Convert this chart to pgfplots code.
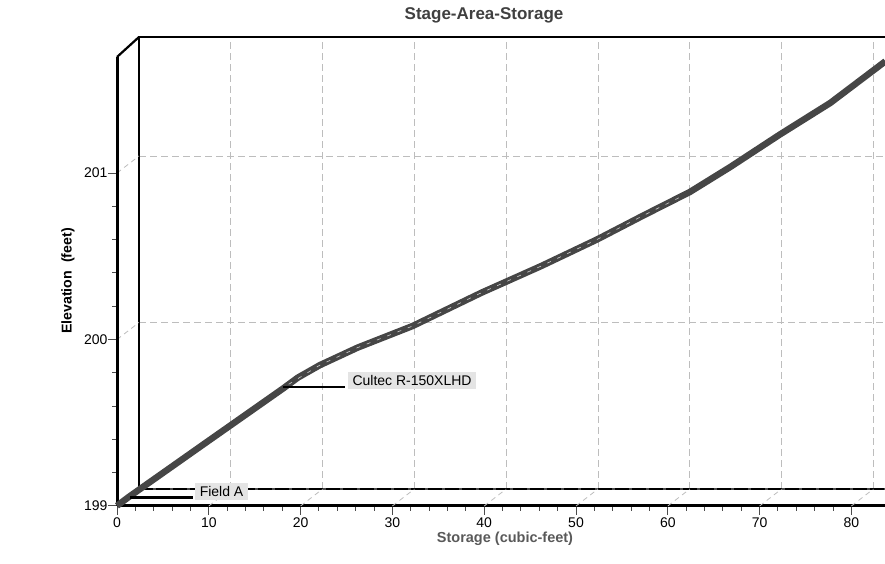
\documentclass[border=0pt]{standalone}
\usepackage{fontspec}
\setmainfont{Liberation Sans}
\usepackage{pgfplots}
\pgfplotsset{compat=1.18}
\definecolor{gridgray}{HTML}{BDBDBD}
\definecolor{curvegray}{HTML}{464646}
\definecolor{labelgray}{HTML}{595959}
\definecolor{titlegray}{HTML}{404040}
\definecolor{boxgray}{HTML}{E4E4E4}

\begin{document}
\begin{tikzpicture}[x=1pt,y=1pt]
\path[use as bounding box] (0,0) rectangle (885,564);

% ---------- back plane (grid) ----------
\begin{axis}[
  at={(139pt,75pt)}, anchor=south west, scale only axis,
  width=746pt, height=452pt,
  xmin=0, xmax=81.26, ymin=199, ymax=201.715,
  axis line style={draw=none},
  xtick={10,20,...,80}, ytick={200,201},
  xticklabels={}, yticklabels={},
  major tick length=0pt,
  grid=major,
  grid style={gridgray, dash pattern=on 7pt off 4pt, line width=0.9pt},
  clip=false,
]
\draw[black!70, line width=1.6pt] (axis cs:0,199) -- (axis cs:81.26,199);
\draw[black, line width=1.6pt, dash pattern=on 14pt off 3pt] (axis cs:0,199) -- (axis cs:81.26,199);
\draw[black, line width=2.2pt] (axis cs:0,199) -- (axis cs:0,201.715) -- (axis cs:81.26,201.715);
\end{axis}

% ---------- front plane (axes, ticks, labels) ----------
\begin{axis}[
  at={(117pt,58pt)}, anchor=south west, scale only axis,
  width=768pt, height=449pt,
  xmin=0, xmax=83.66, ymin=199, ymax=201.697,
  axis x line*=bottom, axis y line*=left,
  axis line style={-, black},
  every outer x axis line/.append style={-, line width=3pt},
  every outer y axis line/.append style={-, line width=3pt},
  xtick={0,10,...,80}, ytick={199,200,201},
  minor x tick num=4, minor y tick num=4,
  tick align=outside, major tick length=9pt, minor tick length=5pt,
  tick style={line width=1pt, color=black!70},
  ticklabel style={font=\fontsize{14}{16}\selectfont, text=black},
  yticklabel style={xshift=3pt},
  xticklabel style={yshift=1pt},
  /pgf/number format/assume math mode=true,
  title={Stage-Area-Storage},
  title style={at={(axis description cs:0.4779,1.0802)}, anchor=center,
    font=\fontsize{17}{20}\selectfont\bfseries, text=titlegray},
  xlabel={Storage (cubic-feet)},
  xlabel style={at={(axis description cs:0.5052,-0.0735)}, anchor=center,
    font=\fontsize{14.5}{17}\selectfont\bfseries, text=labelgray},
  ylabel={Elevation\ \ (feet)},
  ylabel style={at={(axis description cs:-0.0638,0.5011)}, anchor=center, rotate=0,
    font=\fontsize{14.2}{17}\selectfont\bfseries, text=black},
  clip=false,
]
\pgfplotsinvokeforeach{10,20,30,40,50,60,70,80}{
  \draw[gridgray, dash pattern=on 5pt off 4pt, line width=0.8pt] (axis cs:#1,199) -- ++(22pt,17pt);
}
\pgfplotsinvokeforeach{200,201}{
  \draw[gridgray, dash pattern=on 5pt off 4pt, line width=0.8pt] (axis cs:0,#1) -- ++(22pt,17pt);
}
\draw[black, line width=3pt] (axis cs:0,199) -- (axis cs:0,201.697);
\draw[black, line width=2.2pt] (axis cs:0,201.697) -- ++(22pt,20pt);
\end{axis}

% ---------- mid depth (curve and element labels) ----------
\begin{axis}[
  at={(128pt,66.5pt)}, anchor=south west, scale only axis,
  width=757pt, height=450pt,
  xmin=0, xmax=82.46, ymin=199, ymax=201.703,
  hide axis, clip=false,
]
\addplot[curvegray, line width=6.5pt, line join=round, line cap=butt] coordinates {
  (-1.2,198.95) (0,199.00) (8.5,199.33) (16.9,199.655) (18.5,199.72) (20.9,199.795)
  (25.0,199.90) (31.0,200.03) (38.5,200.23) (45.0,200.39) (51.1,200.55)
  (56.0,200.69) (61.2,200.835) (65.6,200.985) (71.0,201.18) (76.5,201.37) (82.5,201.62)
};
\addplot[white!80!black, line width=0.6pt, dash pattern=on 4pt off 7pt] coordinates {
  (17.5,199.68) (20.9,199.795) (25.0,199.90) (31.0,200.03) (38.5,200.23)
  (45.0,200.39) (51.1,200.55) (56.0,200.69) (60.0,200.80)
};
\draw[black, line width=2.2pt] (axis cs:0.2,199) -- (axis cs:7.08,199);
\node[fill=boxgray, inner xsep=4.5pt, inner ysep=3pt, text height=10pt, text depth=0.5pt,
  font=\fontsize{14}{16}\selectfont] at (axis cs:10.19,199.036) {Field A};
\draw[black, line width=2.2pt] (axis cs:16.88,199.664) -- (axis cs:23.64,199.664);
\node[fill=boxgray, inner xsep=4.5pt, inner ysep=3pt, text height=10pt, text depth=0.5pt,
  font=\fontsize{14}{16}\selectfont] at (axis cs:30.94,199.703) {Cultec R-150XLHD};
\end{axis}
\end{tikzpicture}
\end{document}
